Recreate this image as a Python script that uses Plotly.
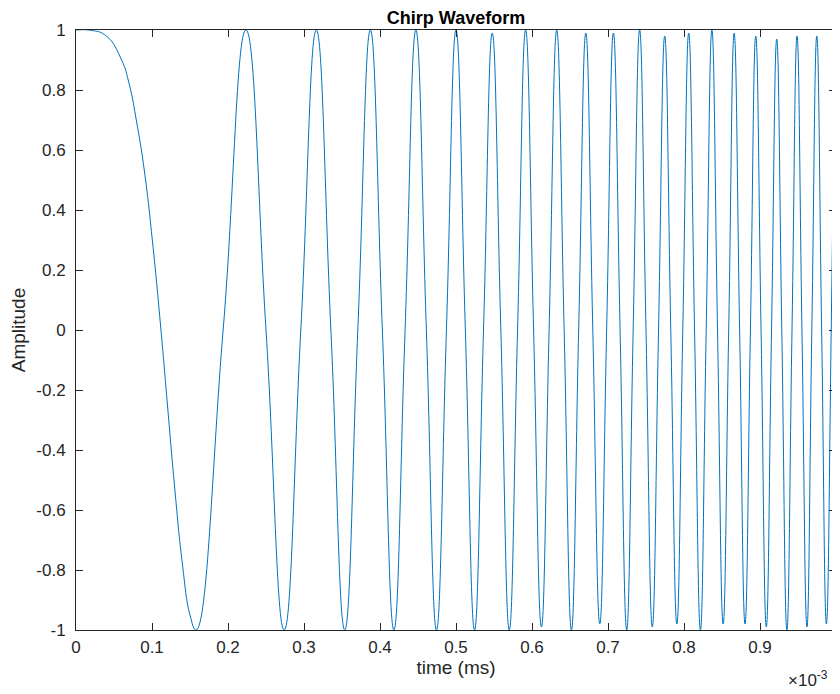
import plotly.graph_objects as go

# time in ms (axis shows x 10^-3 s)
lobe_t = [0.0, 0.02, 0.04, 0.06, 0.07, 0.08, 0.09, 0.1, 0.12, 0.13, 0.14, 0.15]
lobe_y = [1.0, 0.999, 0.98, 0.90, 0.82, 0.69, 0.53, 0.31, -0.24, -0.53, -0.78, -0.95]

extrema_t = [0.158, 0.2236, 0.2739, 0.3162, 0.3536, 0.3873, 0.4183, 0.4472, 0.4743, 0.5,
             0.5244, 0.5477, 0.5701, 0.5916, 0.6124, 0.6325, 0.6519, 0.6708, 0.6892, 0.7071,
             0.7246, 0.7416, 0.7583, 0.7746, 0.7906, 0.8062, 0.8216, 0.8367, 0.8515, 0.866,
             0.8803, 0.8944, 0.9083, 0.922, 0.9354, 0.9487, 0.9618, 0.9747, 0.9874]
extrema_y = [-1.0, 1.0, -1.0, 1.0, -1.0, 1.0, -1.0, 1.0, -1.0, 1.0,
             -1.0, 0.99, -1.0, 1.0, -0.99, 1.0, -1.0, 0.99, -0.98, 0.99,
             -1.0, 1.0, -0.99, 0.98, -0.98, 0.99, -1.0, 1.0, -0.98, 0.99,
             -0.98, 0.98, -0.99, 0.97, -1.0, 0.98, -0.99, 0.98, -0.98]
zero_t = [0.1118, 0.1936, 0.25, 0.2958, 0.3354, 0.3708, 0.4031, 0.433, 0.461, 0.4874,
          0.5123, 0.5362, 0.559, 0.581, 0.6021, 0.6225, 0.6423, 0.6614, 0.68, 0.6982,
          0.7159, 0.7331, 0.75, 0.7665, 0.7826, 0.7984, 0.8139, 0.8292, 0.8441, 0.8588,
          0.8732, 0.8874, 0.9014, 0.9152, 0.9287, 0.9421, 0.9552, 0.9682, 0.9811, 0.9937]
end_t = [0.998]
end_y = [0.88]

pts = list(zip(lobe_t, lobe_y)) + list(zip(extrema_t, extrema_y)) + \
      [(t, 0.0) for t in zero_t] + list(zip(end_t, end_y))
pts.sort()
xs = [p[0] for p in pts]
ys = [p[1] for p in pts]

x_ticks = [0, 0.1, 0.2, 0.3, 0.4, 0.5, 0.6, 0.7, 0.8, 0.9, 1.0]
x_labels = ["0", "0.1", "0.2", "0.3", "0.4", "0.5", "0.6", "0.7", "0.8", "0.9", "1"]
y_ticks = [1, 0.8, 0.6, 0.4, 0.2, 0, -0.2, -0.4, -0.6, -0.8, -1]
y_labels = ["1", "0.8", "0.6", "0.4", "0.2", "0", "-0.2", "-0.4", "-0.6", "-0.8", "-1"]

FONT = "Liberation Sans, Arial, Helvetica, sans-serif"

fig = go.Figure()
fig.add_trace(go.Scatter(x=xs, y=ys, mode="lines",
                         line=dict(color="#0072BD", width=1, shape="spline", smoothing=1.3),
                         showlegend=False, hoverinfo="skip", cliponaxis=True))

axis_common = dict(showgrid=False, zeroline=False, showline=True, linecolor="#262626",
                   linewidth=1, mirror="ticks", ticks="inside", ticklen=7, tickcolor="#262626",
                   automargin=False,
                   tickfont=dict(family=FONT, size=17, color="#262626"))

# page body has an 8px margin, so the figure is 8px smaller and shifted
fig.update_layout(
    width=832, height=686,
    margin=dict(l=68, r=4, t=22, b=64),
    paper_bgcolor="white", plot_bgcolor="white",
    title=dict(text="<b>Chirp Waveform</b>", x=(448) / 832, xanchor="center",
               y=1 - 10 / 686, yanchor="middle",
               font=dict(family=FONT, size=18, color="black")),
    xaxis=dict(range=[0, 1], tickvals=x_ticks, ticktext=x_labels, ticklabelstandoff=2,
               title=dict(text="time (ms)", standoff=4,
                          font=dict(family=FONT, size=19, color="#262626")),
               **axis_common),
    yaxis=dict(range=[-1, 1], tickvals=y_ticks, ticktext=y_labels, ticklabelstandoff=6,
               title=dict(text="Amplitude", standoff=10,
                          font=dict(family=FONT, size=19, color="#262626")),
               **axis_common),
)
fig.add_annotation(text="×10<sup>-3</sup>", xref="paper", yref="paper", x=0.992, y=-0.082,
                   xanchor="right", yanchor="middle", showarrow=False,
                   font=dict(family=FONT, size=17, color="#262626"))

fig.write_html("out.html")
